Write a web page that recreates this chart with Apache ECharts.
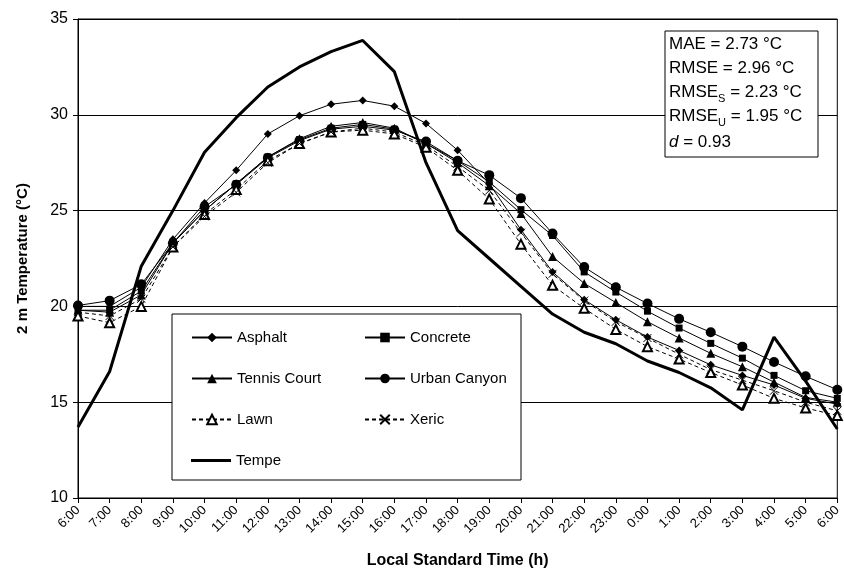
<!DOCTYPE html>
<html><head><meta charset="utf-8">
<script src="https://cdn.jsdelivr.net/npm/echarts@6/dist/echarts.min.js"></script>
<style>html,body{margin:0;padding:0;background:#fff}#c{width:844px;height:577px}</style>
</head><body><div id="c"></div>
<script>
const timeLabels = ["6:00","7:00","8:00","9:00","10:00","11:00","12:00","13:00","14:00","15:00","16:00","17:00","18:00","19:00","20:00","21:00","22:00","23:00","0:00","1:00","2:00","3:00","4:00","5:00","6:00"];
const yTicks = [10, 15, 20, 25, 30, 35];
const asphalt     = [20.0,20.0,21.0,23.5,25.4,27.1,29.0,29.95,30.55,30.75,30.45,29.55,28.15,26.4,24.0,21.8,20.35,19.3,18.4,17.7,16.95,16.4,15.9,15.2,14.9];
const concrete    = [19.8,19.8,20.8,23.3,25.0,26.4,27.8,28.7,29.3,29.5,29.25,28.5,27.6,26.5,25.05,23.7,21.8,20.75,19.75,18.87,18.07,17.3,16.4,15.6,15.2];
const tennisCourt = [19.8,19.7,20.6,23.3,25.0,26.4,27.8,28.75,29.4,29.6,29.3,28.5,27.5,26.3,24.85,22.6,21.2,20.2,19.2,18.35,17.55,16.85,16.05,15.25,15.0];
const urbanCanyon = [20.05,20.3,21.15,23.3,25.2,26.35,27.75,28.65,29.25,29.4,29.2,28.6,27.6,26.85,25.65,23.8,22.05,21.0,20.15,19.35,18.65,17.9,17.1,16.35,15.65];
const lawn        = [19.5,19.15,20.0,23.1,24.8,26.1,27.6,28.5,29.1,29.2,29.0,28.3,27.1,25.6,23.25,21.1,19.9,18.8,17.9,17.25,16.55,15.9,15.2,14.7,14.3];
const xeric       = [19.7,19.5,20.4,23.1,24.7,25.95,27.5,28.5,29.1,29.3,29.1,28.4,27.3,26.05,23.85,21.7,20.3,19.2,18.35,17.5,16.7,16.15,15.6,15.0,14.55];
const tempe       = [13.7,16.6,22.1,25.0,28.05,29.85,31.45,32.5,33.3,33.88,32.25,27.5,23.95,22.5,21.05,19.6,18.65,18.05,17.15,16.55,15.75,14.6,18.4,16.1,13.6];
const statsLines = ["MAE = 2.73 °C","RMSE = 2.96 °C","RMSE","RMSE","d = 0.93"];

const font = "Liberation Sans, Arial, sans-serif";
const chart = echarts.init(document.getElementById('c'), null, {renderer:'canvas'});

function mk(name, data, symbol, size, dashed, extra) {
  return Object.assign({
    name, type:'line', data, symbol, symbolSize:size, showSymbol:true,
    lineStyle:{color:'#000', width:1, type: dashed ? [4,3] : 'solid'},
    itemStyle:{color:'#000', borderColor:'#000', borderWidth:0},
    emphasis:{disabled:true}, animation:false, z:3
  }, extra||{});
}
const xPath = 'path://M0,0L10,10M10,0L0,10';

const legendText = {fontFamily:font, fontSize:15, color:'#000'};
const option = {
  backgroundColor:'#fff',
  animation:false,
  grid:{left:78, right:2, top:19, bottom:79, show:true, borderColor:'#000', borderWidth:1, backgroundColor:'transparent'},
  xAxis:{
    type:'category', data: timeLabels, boundaryGap:false,
    axisLine:{lineStyle:{color:'#000', width:1}},
    axisTick:{show:true, length:5, alignWithLabel:true, lineStyle:{color:'#000'}},
    axisLabel:{rotate:45, fontFamily:font, fontSize:13, color:'#000', margin:10, interval:0},
    splitLine:{show:false},
    name:'Local Standard Time (h)', nameLocation:'middle', nameGap:55,
    nameTextStyle:{fontFamily:font, fontSize:16, fontWeight:'bold', color:'#000'}
  },
  yAxis:{
    type:'value', min:yTicks[0], max:yTicks[yTicks.length-1], interval:5,
    axisLine:{show:true, lineStyle:{color:'#000', width:1}},
    axisTick:{show:true, length:5, lineStyle:{color:'#000'}},
    axisLabel:{fontFamily:font, fontSize:16, color:'#000', margin:10},
    splitLine:{show:true, lineStyle:{color:'#000', width:1}},
    name:'2 m Temperature (°C)', nameLocation:'middle', nameGap:48,
    nameTextStyle:{fontFamily:font, fontSize:15, fontWeight:'bold', color:'#000'}
  },
  legend:[
    {data:["Asphalt","Tennis Court","Lawn"], orient:'vertical', left:186, top:325, itemGap:26,
     itemWidth:40, itemHeight:12, textStyle:legendText, z:20, selectedMode:false},
    {data:[{name:"Tempe", icon:'rect', itemStyle:{color:'#000'}}], left:186, top:448, itemWidth:40, itemHeight:3,
     textStyle:legendText, z:20, selectedMode:false},
    {data:["Concrete","Urban Canyon","Xeric"], orient:'vertical', left:359, top:325, itemGap:26,
     itemWidth:40, itemHeight:12, textStyle:legendText, z:20, selectedMode:false}
  ],
  graphic:[
    {type:'rect', shape:{x:172, y:314, width:349, height:166}, style:{fill:'#fff', stroke:'#000', lineWidth:1}, z:10},
    {type:'rect', shape:{x:665, y:31, width:153, height:126}, style:{fill:'#fff', stroke:'#000', lineWidth:1}, z:10},
    {type:'text', left:669, top:36, z:11, style:{text:statsLines[0], font:'17px '+font, fill:'#000'}},
    {type:'text', left:669, top:60, z:11, style:{text:statsLines[1], font:'17px '+font, fill:'#000'}},
    {type:'text', left:669, top:84, z:11, style:{text:'{a|RMSE}{s|S}{a| = 2.23 °C}', rich:{a:{fontFamily:font, fontSize:17, fill:'#000', verticalAlign:'bottom'}, s:{fontFamily:font, fontSize:11, fill:'#000', verticalAlign:'bottom', padding:[0,0,-3,0]}}}},
    {type:'text', left:669, top:108, z:11, style:{text:'{a|RMSE}{s|U}{a| = 1.95 °C}', rich:{a:{fontFamily:font, fontSize:17, fill:'#000', verticalAlign:'bottom'}, s:{fontFamily:font, fontSize:11, fill:'#000', verticalAlign:'bottom', padding:[0,0,-3,0]}}}},
    {type:'text', left:669, top:134, z:11, style:{text:'{i|d}{a| = 0.93}', rich:{i:{fontFamily:font, fontSize:17, fontStyle:'italic', fill:'#000'}, a:{fontFamily:font, fontSize:17, fill:'#000'}}}}
  ],
  series:[
    mk("Asphalt", asphalt, 'diamond', 8, false),
    mk("Concrete", concrete, 'rect', 7, false),
    mk("Tennis Court", tennisCourt, 'triangle', 9, false),
    mk("Urban Canyon", urbanCanyon, 'circle', 10, false),
    mk("Lawn", lawn, 'emptyTriangle', 9, true, {itemStyle:{color:'#000', borderColor:'#000', borderWidth:1}}),
    mk("Xeric", xeric, xPath, 8, true, {itemStyle:{color:'#000', borderColor:'#000', borderWidth:1}}),
    {name:"Tempe", type:'line', data:tempe, symbol:'none', lineStyle:{color:'#000', width:3}, itemStyle:{color:'#000'}, emphasis:{disabled:true}, z:4}
  ]
};
chart.setOption(option);
</script></body></html>
